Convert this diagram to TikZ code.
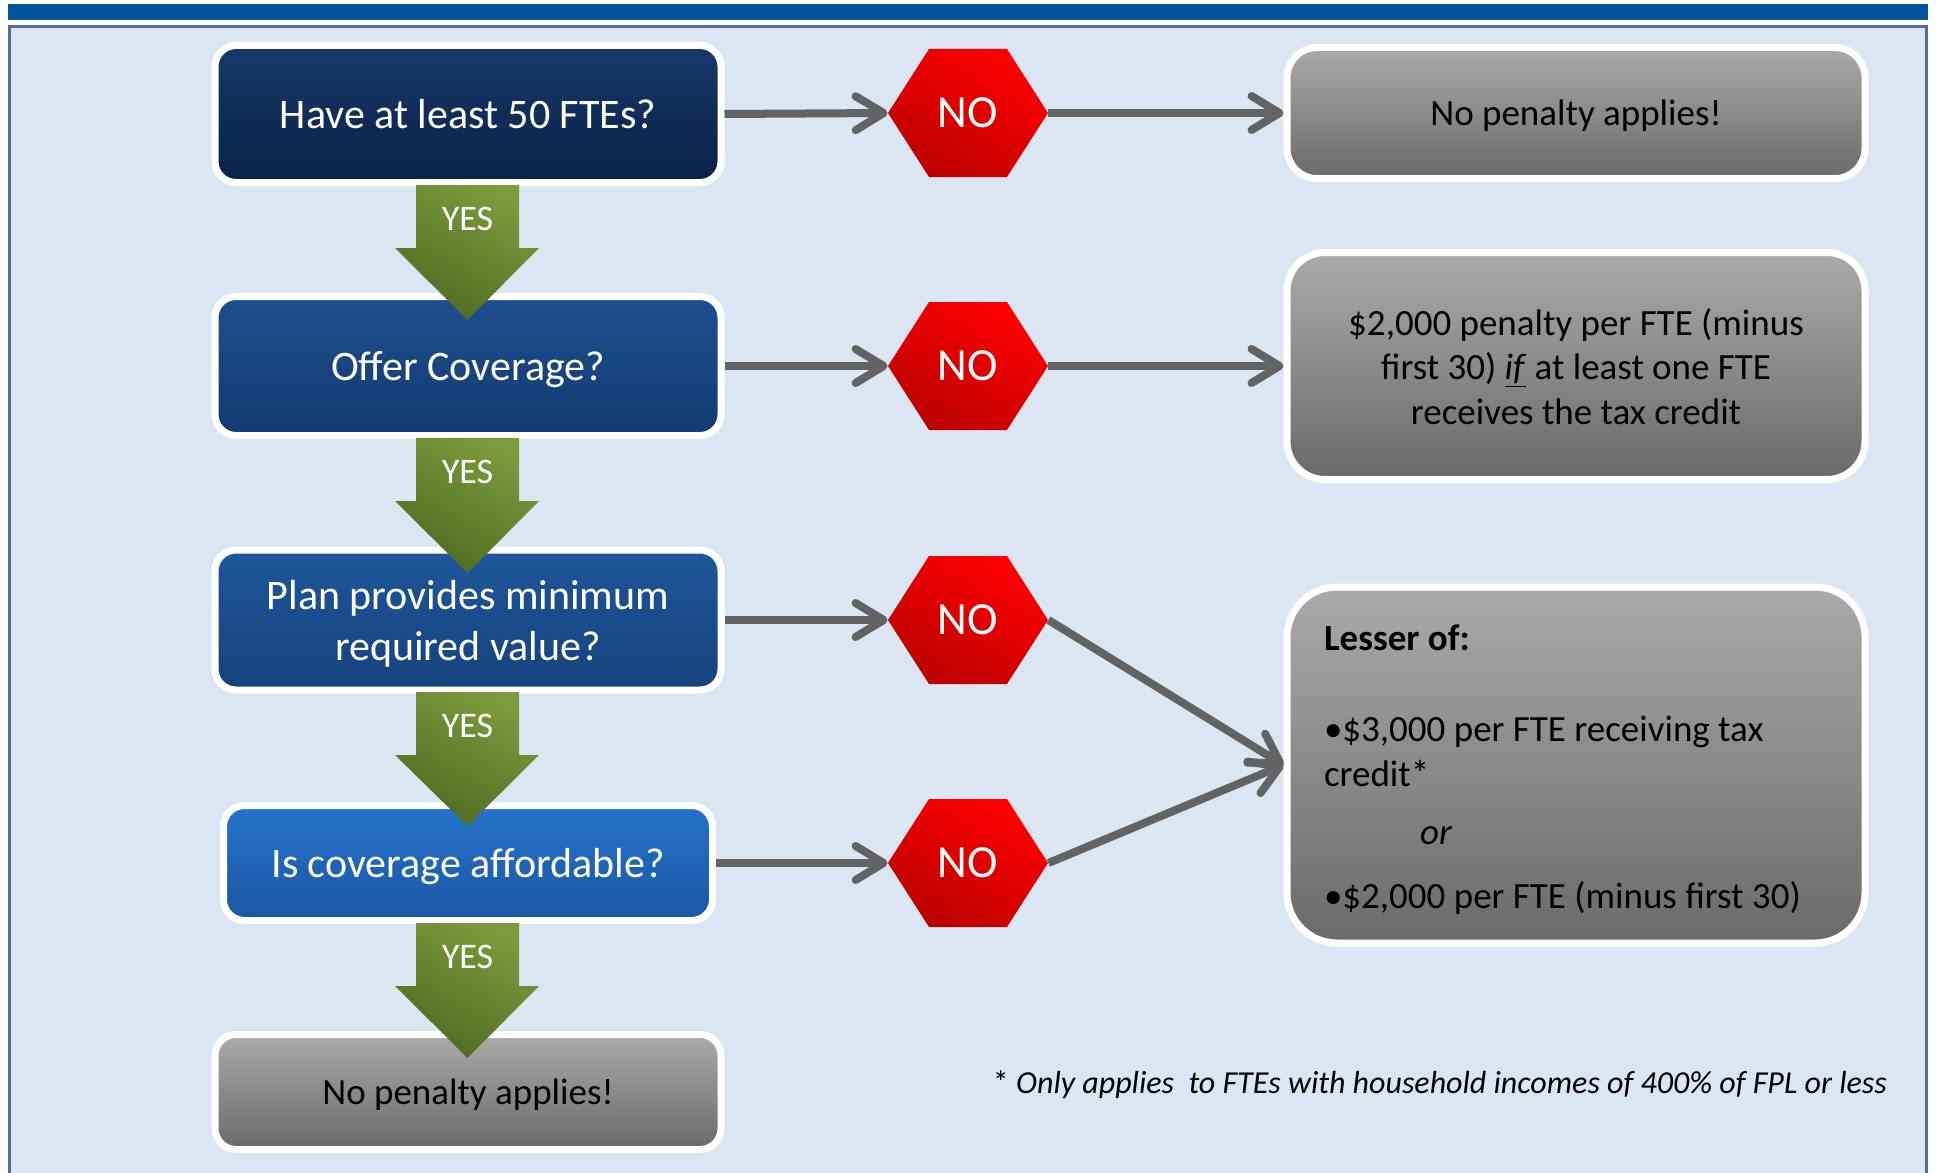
\documentclass[tikz,border=0pt]{standalone}
\usepackage{fontspec}
\setmainfont{Carlito}
\usetikzlibrary{arrows.meta}

\definecolor{panelbg}{HTML}{DCE6F2}
\definecolor{panelline}{HTML}{4F6FA0}
\definecolor{barblue}{HTML}{00539A}
\definecolor{linkgray}{HTML}{636363}
\definecolor{hexhi}{HTML}{FF0000}
\definecolor{hexlo}{HTML}{BC0000}
\definecolor{greenhi}{HTML}{7C9C3C}
\definecolor{greenlo}{HTML}{4F6A22}
\definecolor{grayhi}{HTML}{AAAAAA}
\definecolor{graylo}{HTML}{6A6A6A}
\definecolor{c1hi}{HTML}{17396A}
\definecolor{c1lo}{HTML}{0A2146}
\definecolor{c2hi}{HTML}{1D4F8F}
\definecolor{c2lo}{HTML}{123B70}
\definecolor{c3hi}{HTML}{1F569B}
\definecolor{c3lo}{HTML}{15427C}
\definecolor{c4hi}{HTML}{2673CC}
\definecolor{c4lo}{HTML}{1A56A3}

% red "NO" hexagon with its label node: name, x, y
\newcommand\nohex[3]{%
  \shade[shading=axis, top color=hexhi, bottom color=hexlo, shading angle=-30]
    (#2-80,#3) -- (#2-39,#3-64) -- (#2+39,#3-64) -- (#2+80,#3)
    -- (#2+39,#3+64) -- (#2-39,#3+64) -- cycle;
  \node[nolabel] (#1) at (#2,#3) {NO};}

% green "YES" block arrow: name, shaft top, head start, tip
\newcommand\yesarrow[4]{%
  \shade[shading=axis, top color=greenhi, bottom color=greenlo, shading angle=-30]
    (416,#2) -- (519,#2) -- (519,#3) -- (539,#3) -- (467.5,#4)
    -- (395,#3) -- (416,#3) -- cycle;
  \node[yeslabel] (#1) at (467.5,#2+34) {YES};}

\begin{document}
\begin{tikzpicture}[x=0.5pt, y=-0.5pt,
  box/.style={draw=white, line width=3.5pt, inner sep=0pt},
  qbox/.style={box, align=center, text depth=0pt, rounded corners=10.5pt, text=white,
    font=\fontsize{21}{25.5}\selectfont, minimum width=253pt},
  graybox/.style={box, text=black, top color=grayhi, bottom color=graylo,
    font=\fontsize{18.5}{22.25}\selectfont, minimum width=289pt},
  abox/.style={graybox, align=center, text depth=0pt},
  nolabel/.style={inner sep=0pt, minimum width=80pt, minimum height=64pt,
    text=white, font=\fontsize{23}{23}\selectfont},
  yeslabel/.style={inner sep=0pt, text=white, font=\fontsize{18}{18}\selectfont},
  link/.style={draw=linkgray, line width=4pt,
    -{Straight Barb[length=14pt, width=17pt, round]}},
]
\useasboundingbox (0,0) rectangle (1937,1172);

% page frame
\fill[panelbg] (9.5,26.5) rectangle (1926,1180);
\draw[panelline, line width=1.5pt] (9.5,1180) -- (9.5,26.5) -- (1926,26.5) -- (1926,1180);
\fill[barblue] (8,4) rectangle (1928,20);

% question column
\node[qbox, top color=c1hi, bottom color=c1lo, minimum height=68.5pt] (b1) at (468,114)
  {Have at least 50 FTEs?};
\node[qbox, top color=c2hi, bottom color=c2lo, minimum height=69.5pt] (b2) at (468,366)
  {Offer Coverage?};
\node[qbox, top color=c3hi, bottom color=c3lo, minimum height=70pt] (b3) at (468,620)
  {Plan provides minimum\\ required value?};
\node[qbox, top color=c4hi, bottom color=c4lo, minimum width=244.5pt, minimum height=57.5pt]
  (b4) at (468,863) {Is coverage affordable?};
\node[abox, rounded corners=10.5pt, minimum width=253pt, minimum height=57.5pt]
  (b5) at (468,1092) {No penalty applies!};

% outcome column
\node[abox, rounded corners=15pt, minimum height=65.5pt] (r1) at (1576,113)
  {No penalty applies!};
\node[abox, rounded corners=19pt, minimum height=113.5pt] (r2) at (1576,366)
  {\$2,000 penalty per FTE (minus\\ first 30) \underline{\textit{if}} at least one FTE\\ receives the tax credit};
\node[graybox, rounded corners=25pt, minimum height=178pt, text width=252pt, align=flush left]
  (r3) at (1576,765)
  {\rule{0pt}{17pt}\textbf{Lesser of:}\\[23.5pt]
   •\$3,000 per FTE receiving tax\\
   credit*\\[7pt]
   \hspace*{48pt}\textit{or}\\[9.5pt]
   •\$2,000 per FTE (minus first 30)};

% decision hexagons
\nohex{h1}{968}{113}
\nohex{h2}{968}{366}
\nohex{h3}{968}{620}
\nohex{h4}{968}{863}

% YES arrows down the question column
\yesarrow{y1}{185}{248}{320}
\yesarrow{y2}{438}{501}{573}
\yesarrow{y3}{692}{755}{826}
\yesarrow{y4}{923}{986}{1058}

% NO connectors
\draw[link] (b1.east) -- (h1.west);
\draw[link] (b2.east) -- (h2.west);
\draw[link] (b3.east) -- (h3.west);
\draw[link] (b4.east) -- (h4.west);
\draw[link] (h1.east) -- (r1.west);
\draw[link] (h2.east) -- (r2.west);
\draw[link] (h3.east) -- (r3.west);
\draw[link] (h4.east) -- (r3.west);

% footnote
\node[font=\fontsize{16}{16}\selectfont, inner sep=0pt] (note) at (1440,1085)
  {* \textit{Only applies\ \ to FTEs with household incomes of 400\% of FPL or less}};
\end{tikzpicture}
\end{document}
